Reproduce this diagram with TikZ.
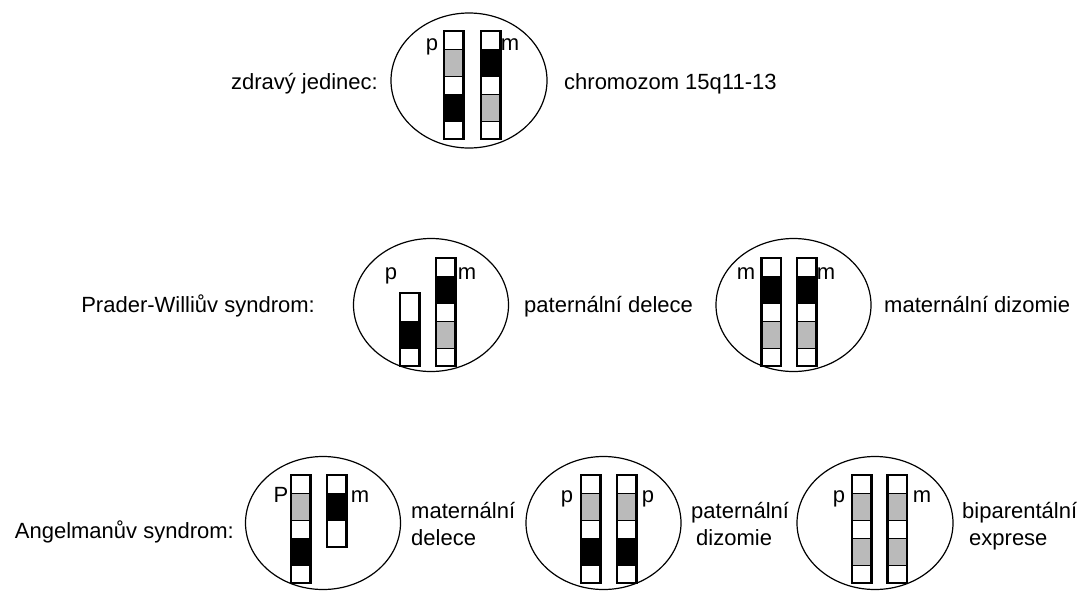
\documentclass[tikz,border=0pt]{standalone}
\usepackage{fontspec}
\setmainfont{Liberation Sans}
\usetikzlibrary{shapes.geometric}

\definecolor{band}{gray}{0.73}

\tikzset{
  cell/.style={draw=black, line width=1.2pt, ellipse, inner sep=0pt,
               minimum width=155pt, minimum height=133pt},
  lbl/.style={inner sep=0pt, font=\fontsize{22}{26}\selectfont},
  segment/.style={draw=black, line width=0.9pt},
  chromline/.style={draw=black, line width=2.4pt},
}

% \chrom{left x}{top y}{height/colour, ...}: one chromosome as a stack of bands
\newcommand\chrom[3]{%
  \begin{scope}[shift={(#1,#2)}]
    \gdef\cy{0}%
    \foreach \h/\c in {#3}{%
      \pgfmathsetmacro\ny{\cy+\h}%
      \fill[\c] (0,\cy) rectangle (19.5,\ny);
      \draw[segment] (0,\cy) -- (19.5,\cy);
      \xdef\cy{\ny}%
    }%
    \draw[chromline] (0,0) rectangle (19.5,\cy);
  \end{scope}}

\begin{document}
\begin{tikzpicture}[x=1pt,y=-1pt]
  \useasboundingbox[fill=white] (0,0) rectangle (1079,590);

  % ---- healthy individual ----
  \node[cell, minimum width=156pt, minimum height=135pt] (c1) at (469,80.5) {};
  \chrom{444}{31}{18/white,27/band,18/white,27/black,18/white}
  \chrom{481}{31}{18/white,27/black,18/white,27/band,18/white}
  \node[lbl, anchor=base] (p1) at (432,50) {p};
  \node[lbl, anchor=base] (m1) at (510,50) {m};
  \node[lbl, anchor=base east] (t1) at (378,89) {zdravý jedinec:};
  \node[lbl, anchor=base west] (r1) at (564,89) {chromozom 15q11-13};

  % ---- Prader-Willi syndrome ----
  \node[lbl, anchor=base east] (t2) at (315,312) {Prader-Williův syndrom:};

  \node[cell] (c2a) at (431,305) {};
  \chrom{400}{293}{28/white,27/black,18/white}
  \chrom{436}{258}{18/white,27/black,18/white,27/band,18/white}
  \node[lbl, anchor=base] (p2a) at (391,279) {p};
  \node[lbl, anchor=base] (m2a) at (467,279) {m};
  \node[lbl, anchor=base west] (r2a) at (524,312) {paternální delece};

  \node[cell] (c2b) at (793.5,305) {};
  \chrom{761.5}{258}{18/white,27/black,18/white,27/band,18/white}
  \chrom{797}{258}{18/white,27/black,18/white,27/band,18/white}
  \node[lbl, anchor=base] (m2b) at (746,279) {m};
  \node[lbl, anchor=base] (m2c) at (826,279) {m};
  \node[lbl, anchor=base west] (r2b) at (884,312) {maternální dizomie};

  % ---- Angelman syndrome ----
  \node[lbl, anchor=base east] (t3) at (234,538) {Angelmanův syndrom:};

  \node[cell] (c3a) at (323,523) {};
  \chrom{291}{475}{18/white,27/band,18/white,27/black,18/white}
  \chrom{327}{475}{18/white,27/black,27/white}
  \node[lbl, anchor=base] (p3a) at (281,502) {P};
  \node[lbl, anchor=base] (m3a) at (360,502) {m};
  \node[lbl, anchor=base west] (r3a) at (411,518) {maternální};
  \node[lbl, anchor=base west] (r3a2) at (411,545) {delece};

  \node[cell] (c3b) at (603.5,523) {};
  \chrom{581}{475}{18/white,27/band,18/white,27/black,18/white}
  \chrom{617}{475}{18/white,27/band,18/white,27/black,18/white}
  \node[lbl, anchor=base] (p3b) at (567,502) {p};
  \node[lbl, anchor=base] (p3c) at (648,502) {p};
  \node[lbl, anchor=base west] (r3b) at (691,518) {paternální};
  \node[lbl, anchor=base west] (r3b2) at (696,545) {dizomie};

  \node[cell, minimum width=156pt] (c3c) at (875,523) {};
  \chrom{852}{475}{18/white,27/band,18/white,27/band,18/white}
  \chrom{887.5}{475}{18/white,27/band,18/white,27/band,18/white}
  \node[lbl, anchor=base] (p3d) at (839,502) {p};
  \node[lbl, anchor=base] (m3d) at (922,502) {m};
  \node[lbl, anchor=base west] (r3c) at (962,518) {biparentální};
  \node[lbl, anchor=base west] (r3c2) at (969,545) {exprese};
\end{tikzpicture}
\end{document}
